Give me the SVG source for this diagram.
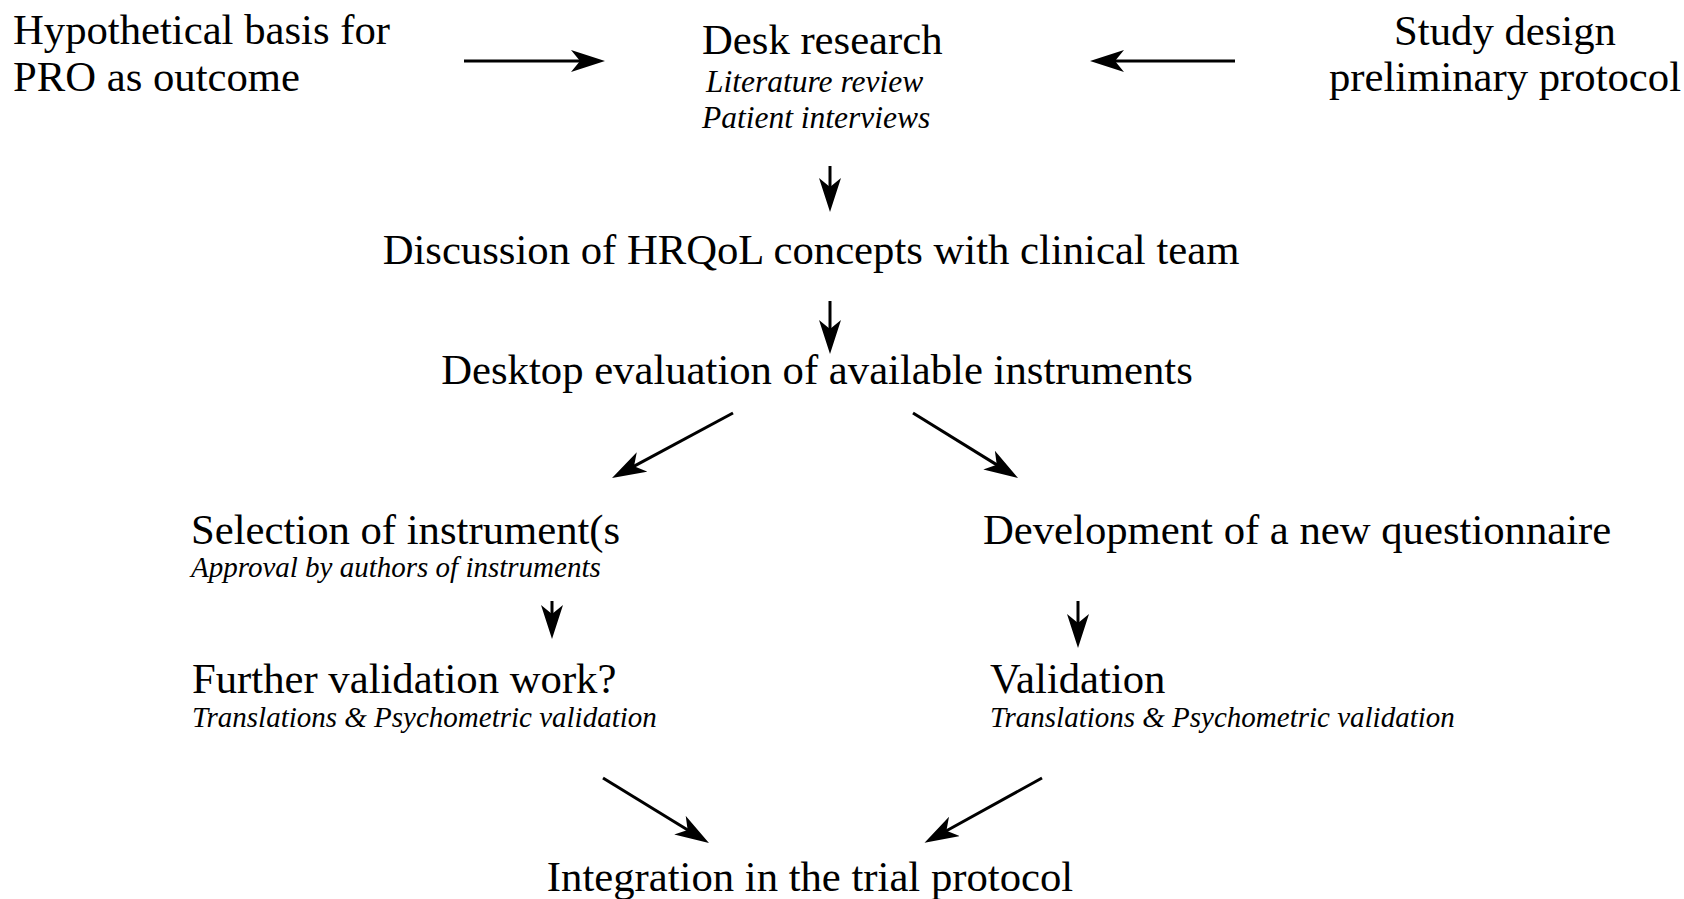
<svg xmlns="http://www.w3.org/2000/svg" width="1684" height="899" viewBox="0 0 1684 899">
<style>
text{font-family:"Liberation Serif","Times New Roman",serif;fill:#000}
.m{font-size:42.7px}
.s{font-size:29px;font-style:italic}
.t{font-size:31.5px;font-style:italic}
.c{text-anchor:middle}
.ln{stroke:#000;stroke-width:3;fill:none;marker-end:url(#ah)}
</style>
<defs>
<marker id="ah" viewBox="0 0 34 22" refX="12" refY="11" markerWidth="34" markerHeight="22" markerUnits="userSpaceOnUse" orient="auto">
<path d="M0,0 L34,11 L0,22 L9,11 Z" fill="#000"/>
</marker>
</defs>
<rect width="1684" height="899" fill="#fff"/>
<g id="hypothesis"><text class="m" x="13" y="44">Hypothetical basis for</text><text class="m" x="13" y="91">PRO as outcome</text></g>
<g id="desk"><text class="m" x="702" y="54">Desk research</text><text class="t" x="706" y="92">Literature review</text><text class="t" x="702" y="128">Patient interviews</text></g>
<g id="study"><text class="m c" x="1505" y="45">Study design</text><text class="m c" x="1505" y="91">preliminary protocol</text></g>
<g id="discussion"><text class="m c" x="811" y="264">Discussion of HRQoL concepts with clinical team</text></g>
<g id="desktop"><text class="m c" x="817" y="384">Desktop evaluation of available instruments</text></g>
<g id="selection"><text class="m" x="191" y="544">Selection of instrument(s</text><text class="s" x="191" y="577">Approval by authors of instruments</text></g>
<g id="development"><text class="m" x="983" y="544">Development of a new questionnaire</text></g>
<g id="further"><text class="m" x="192" y="693">Further validation work?</text><text class="s" x="192" y="727">Translations &amp; Psychometric validation</text></g>
<g id="validation"><text class="m" x="990" y="693">Validation</text><text class="s" x="990" y="727">Translations &amp; Psychometric validation</text></g>
<g id="integration"><text class="m c" x="810" y="891">Integration in the trial protocol</text></g>
<g id="connectors">
<path class="ln" d="M464,61 L583,61"/>
<path class="ln" d="M1235,61 L1112,61"/>
<path class="ln" d="M830,166 L830,190"/>
<path class="ln" d="M830,301 L830,332"/>
<path class="ln" d="M733,413 L631.4,467.6"/>
<path class="ln" d="M913,413 L999.3,466.4"/>
<path class="ln" d="M552,601 L552,617"/>
<path class="ln" d="M1078,601 L1078,626"/>
<path class="ln" d="M603,778 L690.2,831.5"/>
<path class="ln" d="M1042,778 L943.8,832.2"/>
</g>
</svg>
